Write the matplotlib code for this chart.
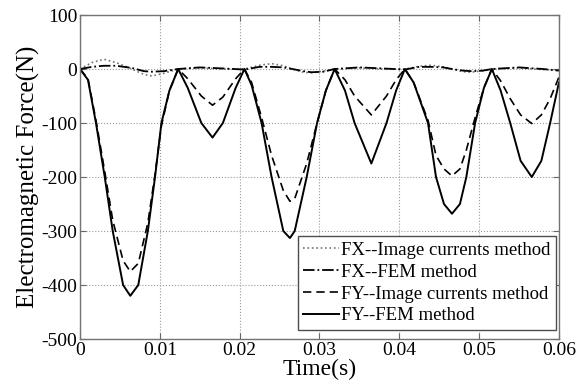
import matplotlib.pyplot as plt
import numpy as np

# FY curves (time in s, force in N)
t_fy = [0, 0.001, 0.002, 0.0031, 0.0041, 0.0054, 0.0063, 0.0073, 0.0085, 0.0094, 0.0102, 0.0112, 0.0123,
        0.0135, 0.0152, 0.0166, 0.0179, 0.0195, 0.0206,
        0.0215, 0.02275, 0.024, 0.02547, 0.0263, 0.0269, 0.0284, 0.0297, 0.0308, 0.0319,
        0.0332, 0.0344, 0.0365, 0.0384, 0.0396, 0.0407,
        0.0418, 0.0436, 0.0446, 0.0456, 0.0466, 0.0476, 0.0484, 0.0495, 0.0506, 0.0516,
        0.0527, 0.0539, 0.0552, 0.0566, 0.0578, 0.0589, 0.06]
fy_fem = [0, -20, -100, -200, -300, -400, -420, -400, -300, -200, -100, -40, 0,
          -35, -100, -127, -100, -35, 0,
          -30, -100, -200, -300, -313, -300, -200, -100, -40, 0,
          -40, -100, -175, -100, -40, 0,
          -25, -100, -200, -250, -268, -250, -200, -100, -35, 0,
          -40, -100, -170, -200, -170, -100, -25]
fy_img = [0, -18, -95, -190, -280, -355, -375, -360, -285, -195, -105, -40, 0,
          -18, -50, -67, -52, -18, 0,
          -25, -90, -160, -225, -245, -240, -175, -100, -40, 0,
          -20, -50, -85, -50, -20, 0,
          -25, -95, -160, -185, -198, -185, -150, -90, -35, 0,
          -22, -55, -85, -101, -85, -55, -15]

# FX curves
t_fx = [0, 0.0015, 0.003, 0.0045, 0.0065, 0.008, 0.009, 0.0105, 0.0123, 0.015, 0.018, 0.0206,
        0.0225, 0.024, 0.0255, 0.0266, 0.028, 0.029, 0.0305, 0.0319, 0.035, 0.038, 0.0407,
        0.0425, 0.044, 0.0455, 0.0466, 0.048, 0.049, 0.0505, 0.0516, 0.055, 0.058, 0.06]
fx_img = [0, 12, 18, 12, 0, -10, -13, -8, 0, 2, 0, 0,
          7, 10, 6, 0, -6, -7, -4, 0, 2, 0, 0,
          5, 7, 4, 0, -5, -6, -3, 0, 2, -1, -2]
fx_fem = [0, 4, 6, 6, 2, -4, -5, -4, 0, 3, 1, -1,
          4, 4, 3, 0, -4, -6, -5, 0, 3, 1, -1,
          4, 4, 3, 0, -3, -4, -3, 0, 3, 0, -3]

xticks = [0, 0.01, 0.02, 0.03, 0.04, 0.05, 0.06]
xtick_labels = ['0', '0.01', '0.02', '0.03', '0.04', '0.05', '0.06']
yticks = [-500, -400, -300, -200, -100, 0, 100]

plt.rcParams['font.family'] = ['Liberation Serif', 'DejaVu Serif']
plt.rcParams['axes.unicode_minus'] = False

fig = plt.figure(figsize=(5.81, 3.89), dpi=100)
ax = fig.add_axes([0.1377, 0.1285, 0.8243, 0.8329])

ax.plot(t_fx, fx_img, color='0.45', linestyle=':', linewidth=1.2, label='FX--Image currents method')
ax.plot(t_fx, fx_fem, color='black', linestyle='-.', linewidth=1.3, label='FX--FEM method')
ax.plot(t_fy, fy_img, color='black', linestyle=(0, (5, 3)), linewidth=1.2, label='FY--Image currents method')
ax.plot(t_fy, fy_fem, color='black', linestyle='-', linewidth=1.4, label='FY--FEM method')

ax.set_xlim(0, 0.06)
ax.set_ylim(-500, 100)
ax.set_xticks(xticks)
ax.set_xticklabels(xtick_labels)
ax.set_yticks(yticks)
ax.grid(True, color='0.6', linestyle=':', linewidth=0.8)
ax.tick_params(direction='in', top=True, right=True, labelsize=14, length=4, color='0.4', pad=2)
for s in ax.spines.values():
    s.set_color('0.45')
    s.set_linewidth(1.0)

ax.set_xlabel('Time(s)', fontsize=17, labelpad=0)
ax.set_ylabel('Electromagnetic Force(N)', fontsize=18, labelpad=1)

leg = ax.legend(loc='lower right', bbox_to_anchor=(0.9937, 0.028), fontsize=13.5, handlelength=1.9,
                handletextpad=0.1, borderpad=0.3, labelspacing=0.25, borderaxespad=0,
                fancybox=False, framealpha=1)
leg.get_frame().set_edgecolor('0.3')

fig.savefig('out.png', dpi=100)
